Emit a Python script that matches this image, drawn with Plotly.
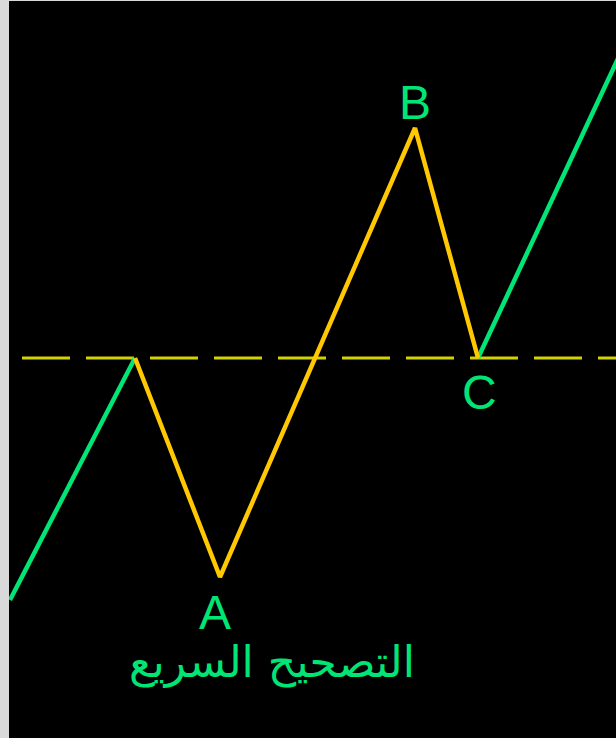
import plotly.graph_objects as go

# wave points (x position, price level)
green1_x = [10, 135]
green1_y = [138, 380]
yellow_x = [135, 220, 415, 478]
yellow_y = [380, 161, 610, 380]
green2_x = [478, 630]
green2_y = [380, 705]
level_y = 380
level_x = [22, 616]

labels = ["A", "B", "C"]
label_x = [215, 415, 479]
label_y = [126, 636, 346]
title_text = "التصحيح السريع"
title_x = 272
title_y = 76

GREEN = "#00e676"
YELLOW = "#ffc800"
DASH = "#d2d200"

fig = go.Figure()
fig.add_trace(go.Scatter(x=level_x, y=[level_y, level_y], mode="lines",
                         line=dict(color=DASH, width=3, dash="48px,16px")))
fig.add_trace(go.Scatter(x=green1_x, y=green1_y, mode="lines",
                         line=dict(color=GREEN, width=4.5)))
fig.add_trace(go.Scatter(x=green2_x, y=green2_y, mode="lines",
                         line=dict(color=GREEN, width=4.5)))
fig.add_trace(go.Scatter(x=yellow_x, y=yellow_y, mode="lines",
                         line=dict(color=YELLOW, width=4.5)))

for t, x, y in zip(labels, label_x, label_y):
    fig.add_annotation(x=x, y=y, text=t, showarrow=False,
                       font=dict(family="Liberation Sans, Arial", size=48, color=GREEN))
fig.add_annotation(x=title_x, y=title_y, text=title_text, showarrow=False,
                   font=dict(family="DejaVu Sans", size=44, color=GREEN))

fig.update_layout(
    width=616, height=738,
    margin=dict(l=9, r=0, t=1, b=0),
    paper_bgcolor="#d9d9d9", plot_bgcolor="#000000",
    showlegend=False,
    xaxis=dict(range=[9, 616], visible=False, fixedrange=True),
    yaxis=dict(range=[0, 737], visible=False, fixedrange=True),
)
fig.write_html("out.html", config={"displayModeBar": False},
               post_script="document.body.style.margin='0';document.body.style.overflow='hidden';")
